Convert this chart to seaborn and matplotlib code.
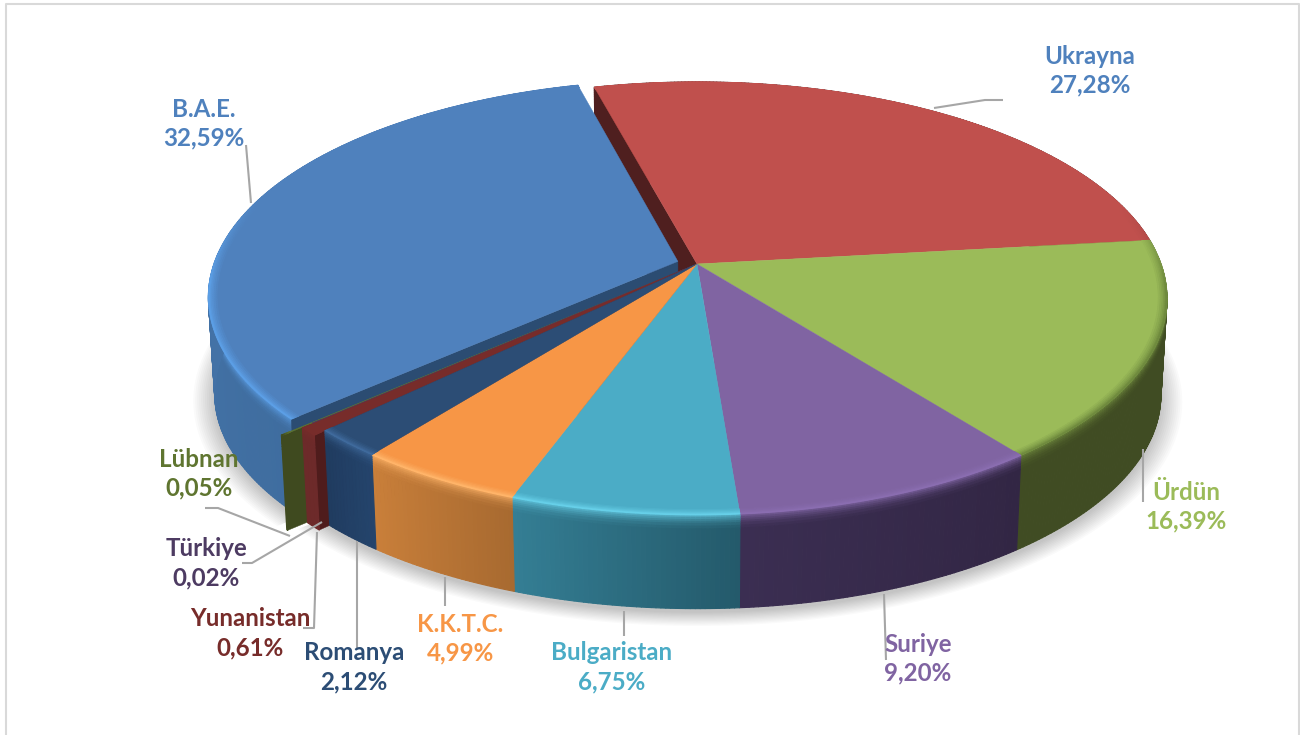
"""3D style pie of country shares, drawn as projected polygons."""

import numpy as np
import seaborn as sns
import matplotlib.pyplot as plt
from matplotlib.collections import PolyCollection
from matplotlib.colors import to_rgb


COUNTRIES = ["Ukrayna", "Ürdün", "Suriye", "Bulgaristan", "K.K.T.C.",
             "Romanya", "Yunanistan", "Türkiye", "Lübnan", "B.A.E."]
SHARES = [27.28, 16.39, 9.20, 6.75, 4.99, 2.12, 0.61, 0.02, 0.05, 32.59]
SHARE_LABELS = ["27,28%", "16,39%", "9,20%", "6,75%", "4,99%",
                "2,12%", "0,61%", "0,02%", "0,05%", "32,59%"]

TOP_COLORS = ["#c0504d", "#9bbb59", "#8064a2", "#4bacc6", "#f79646",
              "#2c4d75", "#772c2a", "#4d3b62", "#5f7530", "#4f81bd"]
LABEL_COLORS = ["#4f81bd", "#9bbb59", "#8064a2", "#4bacc6", "#f79646",
                "#2c4d75", "#772c2a", "#4d3b62", "#5f7530", "#4f81bd"]
# side colour at the start and at the end of each slice's rim
SIDE_START = ["#4f1f1f", "#404c23", "#322644", "#245a6b", "#a86a30",
              "#24446c", "#6d2a2a", "#4d3b62", "#3f4a1f", "#3f6d9f"]
SIDE_END = ["#4f1f1f", "#404c23", "#3b2e52", "#347e94", "#c97f3a",
            "#203c60", "#6d2a2a", "#4d3b62", "#3f4a1f", "#4b7cb5"]
EDGE_LIGHT = ["#a84543", "#6f8a3e", "#8a6db0", "#66cfe8", "#ffb469",
              "#3f6a9c", "#772c2a", "#4d3b62", "#3f4a1f", "#5c9fe6"]
RADIAL = ["#4f1f1f", None, None, None, None, None, "#4f1c1c", "#4d3b62", "#3f4a1f", "#2b4c72"]
EXPLODE = [0, 0, 0, 0, 0, 0, 0.025, 0, 0.07, 0.043]

START_ANGLE = -14.8
CX, CY = 697, 264
A, B, K = 464, 211, 0.159
DEPTH, SHRINK = 97, 0.987

LABEL_POS = [(1090, 56), (1186, 492), (918, 644), (612, 653), (460, 624),
             (354, 653), (250, 619), (206, 549), (199, 459), (204, 109)]
LEADERS = [
    [(934, 108), (985, 100), (1003, 100)],
    [(1143, 449), (1143, 502)],
    [(884, 594), (886, 660)],
    [(624, 611), (624, 636)],
    [(445, 577), (445, 606)],
    [(357, 541), (357, 648)],
    [(317, 532), (314, 628), (303, 628)],
    [(322, 522), (252, 563), (242, 563)],
    [(290, 536), (218, 508), (205, 508)],
    [(246, 145), (251, 203)],
]


def project(u, v, bottom=False):
    u, v = np.asarray(u, float), np.asarray(v, float)
    den = 1 + K * v
    s = SHRINK if bottom else 1
    off = DEPTH if bottom else 0
    return CX + A * s * u / den, CY + off - B * s * v / den


def slice_uv(theta, r, a0, a1, e):
    mid = np.radians((a0 + a1) / 2)
    t = np.radians(theta)
    return r * np.sin(t) + e * np.sin(mid), r * np.cos(t) + e * np.cos(mid)


def mix(c1, c2, w):
    c1, c2 = np.array(to_rgb(c1)), np.array(to_rgb(c2))
    return tuple(c1 * (1 - w) + c2 * w)


def draw_top(ax, a0, a1, e, color, edge):
    th = np.linspace(a0, a1, max(int((a1 - a0) * 2), 2))
    u, v = slice_uv(th, 1.0, a0, a1, e)
    cu, cv = slice_uv(np.array([a0]), 0.0, a0, a1, e)
    x, y = project(np.r_[cu, u], np.r_[cv, v])
    ax.fill(x, y, color=color, lw=0.3)
    # soft bevel just inside the rim
    polys, cols = [], []
    radii = [0.982, 0.986, 0.99, 0.993, 0.996, 0.998, 1.0]
    for j in range(len(radii) - 1):
        for t0, t1 in zip(th[:-1], th[1:]):
            u0, v0 = slice_uv(np.array([t0, t1]), radii[j], a0, a1, e)
            u1, v1 = slice_uv(np.array([t1, t0]), radii[j + 1], a0, a1, e)
            px, py = project(np.r_[u0, u1], np.r_[v0, v1])
            polys.append(np.c_[px, py])
            w = np.clip((0.3 - np.cos(np.radians(t0))) / 0.4, 0, 1)
            cols.append(mix(color, edge, w * (j + 1) / (len(radii) - 1)))
    ax.add_collection(PolyCollection(polys, facecolors=cols, edgecolors=cols, linewidths=0.6))


def draw_rim(ax, a0, a1, e, c0, c1, edge):
    th = np.linspace(a0, a1, max(int((a1 - a0) * 2), 2))
    fr = [0, 0.015, 0.03, 0.05, 0.07, 0.09, 0.12, 0.15, 1]
    polys, cols = [], []
    for i, (t0, t1) in enumerate(zip(th[:-1], th[1:])):
        u, v = slice_uv(np.array([t0, t1]), 1.0, a0, a1, e)
        tx, ty = project(u, v)
        bx, by = project(u, v, bottom=True)
        base = mix(c0, c1, i / max(len(th) - 2, 1))
        w = np.clip((0.3 - np.cos(np.radians(t0))) / 0.4, 0, 1)
        for j in range(len(fr) - 1):
            f0, f1 = fr[j], fr[j + 1]
            px = [tx[0] + (bx[0] - tx[0]) * f0, tx[1] + (bx[1] - tx[1]) * f0,
                  tx[1] + (bx[1] - tx[1]) * f1, tx[0] + (bx[0] - tx[0]) * f1]
            py = [ty[0] + (by[0] - ty[0]) * f0, ty[1] + (by[1] - ty[1]) * f0,
                  ty[1] + (by[1] - ty[1]) * f1, ty[0] + (by[0] - ty[0]) * f1]
            polys.append(np.c_[px, py])
            cols.append(mix(base, edge, w * (1 - j / (len(fr) - 2)) ** 1.5 * 0.8))
    ax.add_collection(PolyCollection(polys, facecolors=cols, edgecolors=cols, linewidths=0.8))


def draw_radial(ax, angle, a0, a1, e, color):
    u, v = slice_uv(np.array([angle]), 1.0, a0, a1, e)
    cu, cv = slice_uv(np.array([angle]), 0.0, a0, a1, e)
    x0, y0 = project(np.r_[cu, u], np.r_[cv, v])
    x1, y1 = project(np.r_[u, cu], np.r_[v, cv], bottom=True)
    ax.fill(np.r_[x0, x1], np.r_[y0, y1], color=color, lw=0.3)


def draw_shadow(ax, a0, a1, e):
    th = np.linspace(a0, a1, 120)
    for grow in np.linspace(1.045, 1.0, 12):
        u, v = slice_uv(th, grow, a0, a1, e)
        cu, cv = slice_uv(np.array([a0]), 0.0, a0, a1, e)
        x, y = project(np.r_[cu, u], np.r_[cv, v], bottom=True)
        ax.fill(x, y + 4, color="black", alpha=0.02, lw=0)


def main():
    sns.set_theme(style="white")
    plt.rcParams["font.family"] = ["Lato", "DejaVu Sans"]

    sweep = np.array(SHARES) * 3.6
    ends = START_ANGLE + np.cumsum(sweep)
    starts = ends - sweep
    tops = sns.color_palette(TOP_COLORS)

    fig, ax = plt.subplots(figsize=(13, 7.35), dpi=100)
    ax.set_position([0, 0, 1, 1])
    ax.set_xlim(0, 1300)
    ax.set_ylim(735, 0)
    ax.axis("off")

    ax.plot([6, 6, 1299, 1299], [735, 4, 4, 735], color="#d9d9d9", lw=1.5)

    draw_shadow(ax, starts[9], ends[9], EXPLODE[9])
    draw_shadow(ax, starts[0] + 80, ends[8], 0)

    # back to front, then the flat tops
    draw_rim(ax, starts[0], ends[0], 0, SIDE_START[0], SIDE_END[0], EDGE_LIGHT[0])
    draw_radial(ax, starts[0], starts[0], ends[0], 0, RADIAL[0])
    i = 9
    draw_rim(ax, starts[i], ends[i], EXPLODE[i], SIDE_START[i], SIDE_END[i], EDGE_LIGHT[i])
    draw_radial(ax, starts[i], starts[i], ends[i], EXPLODE[i], RADIAL[i])
    draw_top(ax, starts[i], ends[i], EXPLODE[i], tops[i], EDGE_LIGHT[i])
    for i in [8, 7, 6]:
        draw_radial(ax, starts[i], starts[i], ends[i], EXPLODE[i], RADIAL[i])
        draw_rim(ax, starts[i], ends[i], EXPLODE[i], SIDE_START[i], SIDE_END[i], EDGE_LIGHT[i])
        draw_top(ax, starts[i], ends[i], EXPLODE[i], tops[i], EDGE_LIGHT[i])
    for i in [1, 2, 3, 4, 5]:
        draw_rim(ax, starts[i], ends[i], 0, SIDE_START[i], SIDE_END[i], EDGE_LIGHT[i])
    for i in [0, 1, 2, 3, 4, 5]:
        draw_top(ax, starts[i], ends[i], 0, tops[i], EDGE_LIGHT[i])

    for pts in LEADERS:
        xs, ys = zip(*pts)
        ax.plot(xs, ys, color="#a6a6a6", lw=1.5, solid_capstyle="butt")

    for name, share, col, (x, y) in zip(COUNTRIES, SHARE_LABELS, LABEL_COLORS, LABEL_POS):
        ax.text(x, y, name, color=col, fontsize=17.4, fontweight="bold", ha="center", va="center")
        ax.text(x, y + 29, share, color=col, fontsize=17.4, fontweight="bold", ha="center", va="center")

    fig.savefig("out.png", dpi=100)
    plt.close()


if __name__ == "__main__":
    main()
